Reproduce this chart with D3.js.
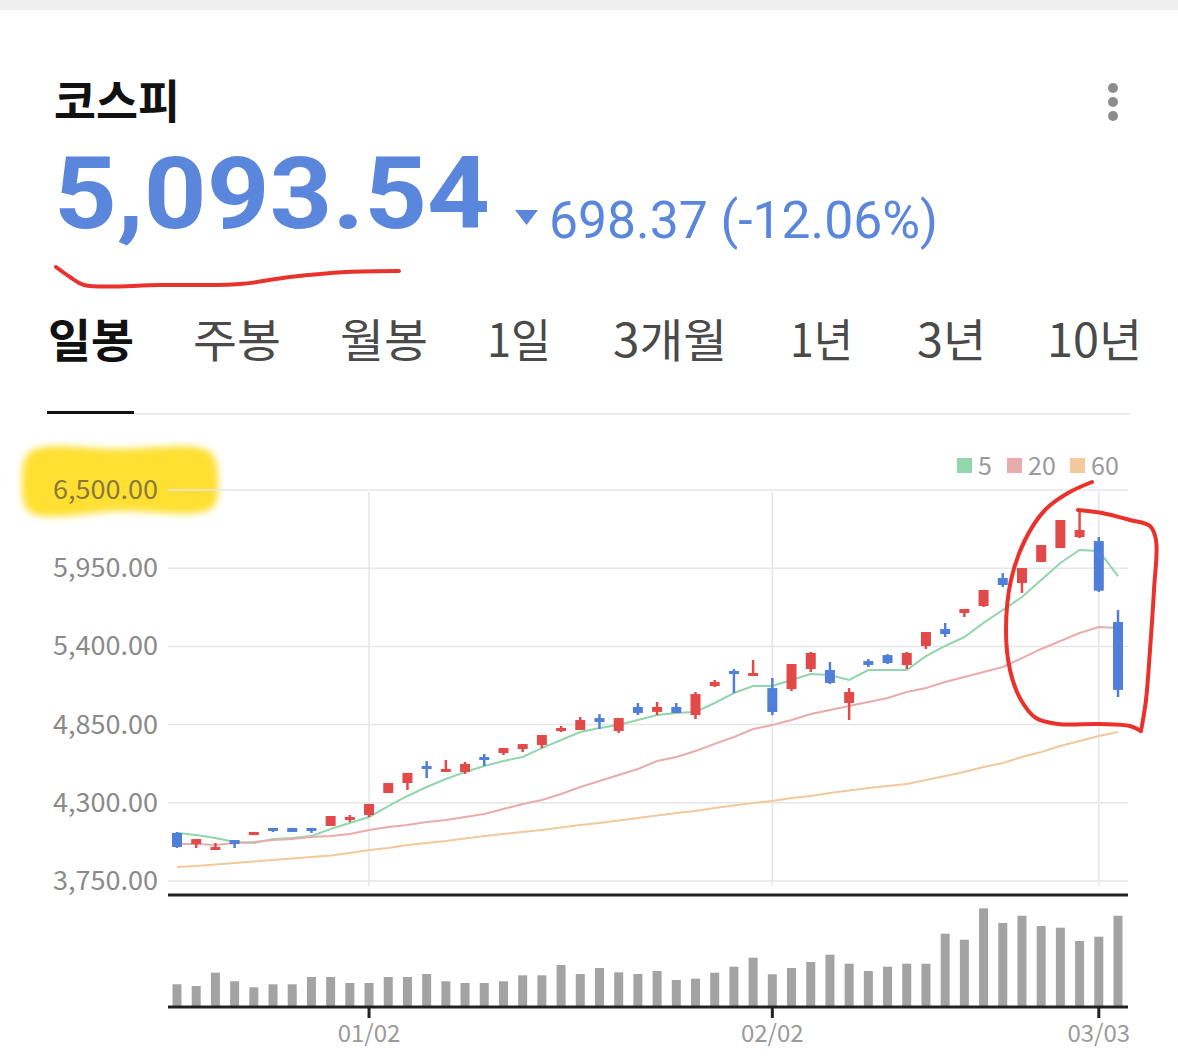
<!DOCTYPE html>
<html><head><meta charset="utf-8">
<script src="https://cdn.jsdelivr.net/npm/d3@7/dist/d3.min.js"></script>
<style>html,body{margin:0;padding:0;background:#fff;}svg{display:block;}</style>
</head><body>
<svg id="c" width="1178" height="1062"></svg>
<script>
const dates = ["12/16","12/17","12/18","12/19","12/22","12/23","12/24","12/26","12/29","12/30",
"01/02","01/05","01/06","01/07","01/08","01/09","01/12","01/13","01/14","01/15","01/16","01/19","01/20","01/21","01/22","01/23","01/26","01/27","01/28","01/29","01/30",
"02/02","02/03","02/04","02/05","02/06","02/09","02/10","02/11","02/12","02/13","02/19","02/20","02/23","02/24","02/25","02/26","02/27",
"03/03","03/04"];
const openP  = [4088,4010,3975,4038,4073,4123,4123,4123,4137,4179,4214,4369,4439,4559,4517,4517,4622,4650,4678,4706,4812,4812,4896,4805,4974,4939,4974,4917,5121,5227,5192,5107,5100,5241,5234,5002,5297,5339,5269,5403,5522,5635,5684,5881,5846,5994,6092,6169,6141,5572];
const highP  = [4095,4045,4017,4038,4095,4123,4123,4123,4207,4214,4292,4439,4510,4594,4601,4587,4643,4685,4713,4777,4840,4903,4924,4896,5002,5009,5002,5079,5164,5241,5304,5178,5276,5361,5290,5107,5311,5346,5361,5501,5565,5663,5797,5916,5951,6113,6289,6359,6169,5656];
const lowP   = [3982,3982,3975,3982,4073,4095,4095,4088,4137,4165,4200,4369,4390,4474,4517,4503,4559,4636,4657,4685,4798,4812,4819,4791,4917,4917,4932,4889,5114,5072,5192,4917,5086,5220,5136,4882,5255,5276,5241,5382,5466,5607,5677,5818,5776,5994,6092,6162,5783,5044];
const closeP = [3989,4045,3989,4010,4095,4109,4095,4102,4207,4200,4292,4439,4510,4538,4538,4573,4611,4685,4713,4777,4826,4882,4868,4896,4932,4974,4932,5065,5150,5213,5213,4939,5276,5354,5143,5079,5269,5283,5354,5501,5487,5663,5797,5832,5951,6113,6289,6219,5792,5094];
const ma5  = [4088,4074,4052,4024,4017,4045,4052,4066,4116,4158,4200,4277,4348,4411,4467,4517,4559,4594,4622,4685,4742,4798,4826,4847,4882,4917,4932,4939,5002,5072,5121,5121,5164,5206,5199,5164,5234,5234,5234,5332,5403,5466,5565,5656,5747,5867,5987,6078,6071,5895];
const ma20 = [4010,4010,4003,4017,4024,4038,4045,4059,4066,4081,4109,4130,4144,4165,4179,4200,4221,4256,4292,4320,4362,4411,4453,4495,4538,4594,4622,4664,4714,4763,4819,4847,4882,4925,4953,4981,5009,5037,5079,5107,5150,5185,5220,5255,5318,5382,5438,5494,5536,5529];
const ma60 = [3848,3855,3866,3877,3887,3898,3908,3919,3929,3947,3968,3982,4003,4017,4031,4049,4066,4081,4095,4109,4126,4144,4158,4175,4193,4211,4228,4242,4263,4281,4299,4313,4334,4348,4369,4386,4404,4418,4432,4460,4488,4517,4552,4580,4622,4657,4699,4735,4770,4798];
const volume = [217,200,333,247,187,217,217,290,290,230,230,290,290,320,247,230,230,247,307,307,410,320,380,337,320,350,260,273,333,393,483,317,380,440,513,423,350,393,423,423,723,663,977,830,903,800,783,650,693,903];
const yTicks = [3750,4300,4850,5400,5950,6500];
const xTickLabels = ["01/02","02/02","03/03"];
const tabs = ["일봉","주봉","월봉","1일","3개월","1년","3년","10년"];
const legendItems = ["5","20","60"];
const title = "코스피";
const priceText = "5,093.54";
const changeText = "698.37 (-12.06%)";

const FONT = "'Noto Sans CJK KR','Noto Sans',Roboto,sans-serif";
const BLUE_TXT = "#5a86dc";
const UP = "#e24a4a", DOWN = "#4f7fd8";
const maColors = ["#93d5ac","#e9acac","#f1c99d"];

const svg = d3.select("#c");
svg.append("rect").attr("x",0).attr("y",0).attr("width",1178).attr("height",10).attr("fill","#efefef");

// header
svg.append("text").attr("x",54).attr("y",118).attr("font-family",FONT).attr("font-size",46).attr("font-weight",700).attr("fill","#111")
  .attr("textLength",126).attr("lengthAdjust","spacingAndGlyphs").text(title);
[88,102,116].forEach(cy=>svg.append("circle").attr("cx",1113).attr("cy",cy).attr("r",5).attr("fill","#8c8c8c"));
svg.append("text").attr("x",54).attr("y",228).attr("font-family","Roboto,'Noto Sans',sans-serif").attr("font-size",100).attr("font-weight",700)
  .attr("fill",BLUE_TXT).attr("textLength",436).attr("lengthAdjust","spacingAndGlyphs").text(priceText);
svg.append("path").attr("d","M515,210 L538,210 L526.5,225 Z").attr("fill",BLUE_TXT);
svg.append("text").attr("x",549).attr("y",238).attr("font-family","Roboto,'Noto Sans',sans-serif").attr("font-size",52)
  .attr("fill",BLUE_TXT).attr("textLength",389).attr("lengthAdjust","spacingAndGlyphs").text(changeText);
svg.append("path").attr("d",d3.line().curve(d3.curveCatmullRom)([[56,267],[70,277],[84,285],[160,285],[240,284],[290,277],[346,272],[399,271]]))
  .attr("fill","none").attr("stroke","#e8322b").attr("stroke-width",4).attr("stroke-linecap","round");

// tabs
const tabX = [48,193,340,487,613,790,917,1047];
const tabW = [86,88,88,64,114,63,69,95];
tabs.forEach((t,i)=>svg.append("text").attr("x",tabX[i]).attr("y",357).attr("font-family",FONT).attr("font-size",46)
  .attr("font-weight",i===0?700:400).attr("fill",i===0?"#111":"#4a4a4a")
  .attr("textLength",tabW[i]).attr("lengthAdjust","spacingAndGlyphs").text(t));
svg.append("rect").attr("x",134).attr("y",413).attr("width",996).attr("height",2).attr("fill","#ececec");
svg.append("rect").attr("x",47).attr("y",411).attr("width",87).attr("height",3).attr("fill","#111");

// scales
const x = d3.scalePoint().domain(dates).range([177,1118]);
const y = d3.scaleLinear().domain([3750,6500]).range([881,490]);
const yv = d3.scaleLinear().domain([0,1100]).range([1006,896]);

// yellow highlight annotation
const defs = svg.append("defs");
defs.append("filter").attr("id","blur").append("feGaussianBlur").attr("stdDeviation",3.5);
svg.append("path").attr("d",d3.line().curve(d3.curveCatmullRomClosed)([[30,452],[120,449],[210,452],[218,480],[212,508],[120,511],[30,512],[22,482]]))
  .attr("fill","#ffe032").attr("filter","url(#blur)");

// grid
const g = svg.append("g");
g.selectAll(".hg").data(yTicks).join("line").attr("x1",168).attr("x2",1128).attr("y1",d=>y(d)).attr("y2",d=>y(d))
  .attr("stroke","#e6e6e6").attr("stroke-width",1.5);
g.selectAll(".vg").data(xTickLabels).join("line").attr("x1",d=>x(d)).attr("x2",d=>x(d)).attr("y1",492).attr("y2",886)
  .attr("stroke","#e6e6e6").attr("stroke-width",1.5);
const fmt = d3.format(",.2f");
g.selectAll(".yl").data(yTicks).join("text").attr("x",158).attr("y",d=>y(d)+9).attr("text-anchor","end")
  .attr("font-family",FONT).attr("font-size",26).attr("fill",d=>d===6500?"#8a7a3a":"#8a8a8a")
  .attr("textLength",105).attr("lengthAdjust","spacingAndGlyphs").text(d=>fmt(d));

// legend
const lgX = [957,1007,1070];
legendItems.forEach((t,i)=>{
  svg.append("rect").attr("x",lgX[i]).attr("y",458).attr("width",15).attr("height",15).attr("fill",maColors[i]);
  svg.append("text").attr("x",lgX[i]+21).attr("y",475).attr("font-family",FONT).attr("font-size",25).attr("fill","#9a9a9a").text(t);
});

// MA lines
[ma5,ma20,ma60].forEach((arr,k)=>{
  svg.append("path").attr("d",d3.line().x((d,i)=>x(dates[i])).y(d=>y(d))(arr))
    .attr("fill","none").attr("stroke",maColors[k]).attr("stroke-width",2);
});

// candles
const cg = svg.append("g");
const idx = d3.range(dates.length);
const col = i => closeP[i] >= openP[i] ? UP : DOWN;
cg.selectAll("line.w").data(idx).join("line").attr("x1",i=>x(dates[i])).attr("x2",i=>x(dates[i]))
  .attr("y1",i=>y(highP[i])).attr("y2",i=>y(lowP[i])).attr("stroke",col).attr("stroke-width",2.5);
cg.selectAll("rect.b").data(idx).join("rect").attr("x",i=>x(dates[i])-5).attr("width",10)
  .attr("y",i=>y(Math.max(openP[i],closeP[i])))
  .attr("height",i=>Math.max(3,Math.abs(y(openP[i])-y(closeP[i])))).attr("fill",col);

// separator
svg.append("rect").attr("x",168).attr("y",893.5).attr("width",960).attr("height",3).attr("fill","#222");

// volume
svg.selectAll("rect.v").data(idx).join("rect").attr("x",i=>x(dates[i])-4.5).attr("width",9)
  .attr("y",i=>yv(volume[i])).attr("height",i=>yv(0)-yv(volume[i])).attr("fill","#a3a3a3");
svg.append("rect").attr("x",168).attr("y",1005.5).attr("width",960).attr("height",3).attr("fill","#222");
xTickLabels.forEach(t=>{
  svg.append("rect").attr("x",x(t)-1.5).attr("y",1006).attr("width",3).attr("height",12).attr("fill","#222");
  svg.append("text").attr("x",x(t)).attr("y",1042).attr("text-anchor","middle").attr("font-family",FONT)
    .attr("font-size",24).attr("fill","#9a9a9a").text(t);
});

// red loop annotation
svg.append("path").attr("d",d3.line().curve(d3.curveCatmullRom)([[1092,482],[1068,493],[1045,510],[1025,540],[1011,580],[1006,630],[1010,670],[1021,700],[1036,718],[1058,724],[1100,724],[1130,726],[1141,731]]))
  .attr("fill","none").attr("stroke","#e8322b").attr("stroke-width",4).attr("stroke-linecap","round");
svg.append("path").attr("d",d3.line().curve(d3.curveCatmullRom)([[1141,731],[1146,700],[1150,650],[1154,590],[1156,540],[1150,526],[1130,520],[1102,513],[1078,510]]))
  .attr("fill","none").attr("stroke","#e8322b").attr("stroke-width",4).attr("stroke-linecap","round");
</script>
</body></html>
